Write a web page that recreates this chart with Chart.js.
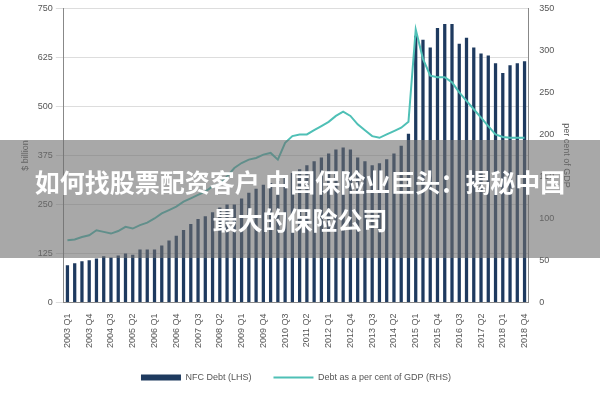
<!DOCTYPE html>
<html><head><meta charset="utf-8">
<script src="https://cdn.jsdelivr.net/npm/chart.js@4"></script>
<style>
body{margin:0;background:#fff;}
#wrap{position:relative;width:600px;height:400px;}
#banner{position:absolute;left:0;top:140px;width:600px;height:118px;background:rgba(110,110,110,0.6);color:#fff;font:bold 25px "Noto Sans CJK SC",sans-serif;text-align:center;}
#banner div{line-height:38px;}
</style></head><body>
<div id="wrap"><canvas id="c" width="600" height="400"></canvas>
<div id="banner"><div style="margin-top:22px">如何找股票配资客户 中国保险业巨头：揭秘中国</div><div>最大的保险公司</div></div></div>
<script>
const years=[2003,2004,2005,2006,2007,2008,2009,2010,2011,2012,2013,2014,2015,2016,2017,2018];
const categories=[];years.forEach(y=>{for(let q=1;q<=4;q++)categories.push(y+' Q'+q);});
const nfcDebt=[95,100,105,108,112,118,115,120,125,122,135,135,135,145,158,170,185,200,213,220,230,242,250,250,265,280,290,300,305,310,320,330,340,350,360,370,380,390,395,390,370,360,350,355,365,380,400,430,680,670,650,700,710,710,660,675,650,635,630,610,585,605,610,615];
const debtGdp=[74,75,78,80,86,84,82,85,90,88,92,95,100,106,110,114,120,124,128,132,138,141,150,160,166,170,172,176,178,170,190,198,200,200,205,210,215,222,227,222,212,205,198,196,200,204,208,215,325,290,270,268,268,262,250,240,230,220,210,200,197,196,196,196];
const leftTicks=[0,125,250,375,500,625,750];
const rightTicks=[0,50,100,150,200,250,300,350];
new Chart(document.getElementById('c'),{
 data:{labels:categories,datasets:[
  {type:'line',label:'Debt as a per cent of GDP (RHS)',data:debtGdp,yAxisID:'y2',borderColor:'#4fc0b6',backgroundColor:'#4fc0b6',borderWidth:2,pointRadius:0,tension:0,pointStyle:'line'},
  {type:'bar',label:'NFC Debt (LHS)',data:nfcDebt,yAxisID:'y',backgroundColor:'#1e3a5f',barPercentage:0.45,categoryPercentage:1,pointStyle:'rect'}
 ]},
 options:{responsive:false,animation:false,
  layout:{padding:{left:16,right:24,top:7,bottom:8}},
  plugins:{legend:{position:'bottom',reverse:true,labels:{usePointStyle:true,pointStyleWidth:40,boxHeight:6,font:{size:9},color:'#555',padding:22}},tooltip:{enabled:false}},
  scales:{
   x:{grid:{display:false},border:{color:'#888'},ticks:{autoSkip:false,maxRotation:90,minRotation:90,font:{size:9},color:'#555',callback:(v,i)=>i%3===0?categories[i]:''}},
   y:{position:'left',min:0,max:750,afterBuildTicks:a=>{a.ticks=leftTicks.map(v=>({value:v}));},grid:{color:'#ddd'},border:{color:'#888'},ticks:{font:{size:9},color:'#555'},title:{display:true,text:'$ billion',font:{size:9},color:'#555'}},
   y2:{position:'right',min:0,max:350,afterBuildTicks:a=>{a.ticks=rightTicks.map(v=>({value:v}));},grid:{display:false},border:{color:'#888'},ticks:{font:{size:9},color:'#555'},title:{display:true,text:'per cent of GDP',font:{size:9},color:'#555'}}
  }}
});
</script></body></html>
